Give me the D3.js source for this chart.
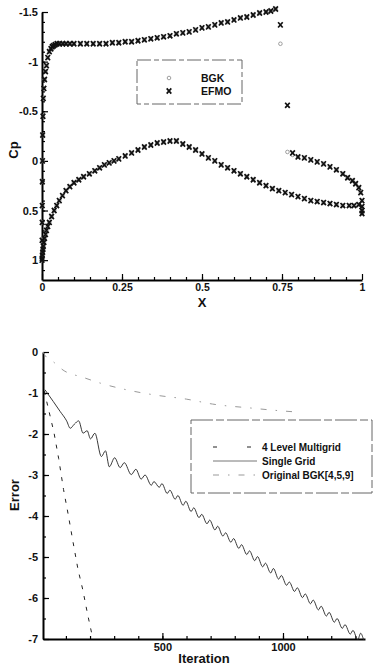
<!DOCTYPE html>
<html>
<head>
<meta charset="utf-8">
<script src="https://cdn.jsdelivr.net/npm/d3@7"></script>
<style>
  body { margin: 0; background: #fff; }
  svg { display: block; font-family: 'Liberation Sans', Arial, sans-serif; }
  .axis text { font-size: 11px; font-weight: bold; fill: #111; }
  .axis line { stroke: #000; stroke-width: 1.2; }
  .axis path { stroke: #000; stroke-width: 2; }
  .label { font-weight: bold; fill: #111; }
  .leg { font-size: 10px; font-weight: bold; fill: #111; }
</style>
</head>
<body>
<svg width="381" height="666"></svg>
<script>
// ---- top chart: pressure coefficient ----
let upperX = [0, 0.0003, 0.0005, 0.0008, 0.001, 0.0015, 0.002, 0.003, 0.004, 0.006, 0.008, 0.011, 0.014, 0.018,
  0.023, 0.028, 0.032, 0.036, 0.041, 0.047, 0.055, 0.065, 0.075, 0.087, 0.1, 0.12, 0.14, 0.16, 0.18, 0.2,
  0.22, 0.24, 0.26, 0.28, 0.3, 0.32, 0.34, 0.36, 0.38, 0.4, 0.42, 0.44, 0.46, 0.48, 0.5, 0.52, 0.54, 0.56,
  0.58, 0.6, 0.62, 0.64, 0.66, 0.68, 0.7, 0.715, 0.73, 0.745, 0.767, 0.783, 0.8, 0.82, 0.84, 0.86, 0.88,
  0.9, 0.92, 0.94, 0.955, 0.97, 0.98, 0.99, 0.996, 1.0, 1.0];
let efmoUpperCp = [1.0, 0.8, 0.62, 0.45, 0.21, 0.0, -0.26, -0.45, -0.63, -0.73, -0.82, -0.9, -0.96, -1.04,
  -1.1, -1.13, -1.15, -1.16, -1.17, -1.18, -1.18, -1.18, -1.18, -1.18, -1.18, -1.18, -1.18, -1.18, -1.18, -1.18,
  -1.19, -1.19, -1.2, -1.2, -1.21, -1.22, -1.23, -1.24, -1.25, -1.26, -1.28, -1.29, -1.3, -1.32, -1.34, -1.35, -1.37, -1.39,
  -1.4, -1.42, -1.44, -1.45, -1.47, -1.49, -1.5, -1.51, -1.53, -1.37, -0.56, -0.08, -0.04, -0.03, -0.01, 0.01, 0.03,
  0.06, 0.09, 0.13, 0.17, 0.2, 0.23, 0.27, 0.32, 0.4, 0.5];
let bgkUpperCp = [1.0, 0.8, 0.62, 0.45, 0.21, 0.0, -0.26, -0.45, -0.63, -0.73, -0.82, -0.9, -0.96, -1.04,
  -1.1, -1.13, -1.15, -1.16, -1.17, -1.18, -1.18, -1.18, -1.18, -1.18, -1.18, -1.18, -1.18, -1.18, -1.18, -1.18,
  -1.19, -1.19, -1.2, -1.2, -1.21, -1.22, -1.23, -1.24, -1.25, -1.26, -1.28, -1.29, -1.3, -1.32, -1.34, -1.35, -1.37, -1.39,
  -1.4, -1.42, -1.44, -1.45, -1.47, -1.49, -1.5, -1.51, -1.53, -1.18, -0.09, -0.06, -0.04, -0.03, -0.01, 0.01, 0.03,
  0.06, 0.09, 0.13, 0.17, 0.2, 0.23, 0.27, 0.32, 0.4, 0.5];

let lowerX = [0.0005, 0.001, 0.002, 0.003, 0.004, 0.006, 0.008, 0.011, 0.014, 0.018, 0.023, 0.03, 0.038, 0.046,
  0.054, 0.064, 0.075, 0.087, 0.1, 0.115, 0.13, 0.148, 0.165, 0.18, 0.195, 0.21, 0.225, 0.24, 0.26, 0.28,
  0.3, 0.32, 0.34, 0.36, 0.38, 0.4, 0.42, 0.44, 0.46, 0.48, 0.5, 0.52, 0.54, 0.56, 0.58, 0.6, 0.62, 0.64,
  0.66, 0.68, 0.7, 0.72, 0.74, 0.76, 0.78, 0.8, 0.82, 0.84, 0.86, 0.88, 0.9, 0.92, 0.94, 0.96, 0.975, 0.99, 1.0, 1.0];
let lowerCp = [0.98, 0.95, 0.92, 0.89, 0.86, 0.82, 0.78, 0.74, 0.7, 0.66, 0.62, 0.56, 0.5, 0.45,
  0.4, 0.35, 0.3, 0.26, 0.22, 0.19, 0.16, 0.13, 0.1, 0.07, 0.04, 0.02, 0.0, -0.02, -0.05, -0.08,
  -0.11, -0.14, -0.16, -0.18, -0.19, -0.2, -0.2, -0.17, -0.14, -0.11, -0.07, -0.03, 0.0, 0.04, 0.07, 0.1, 0.13, 0.16,
  0.19, 0.22, 0.25, 0.28, 0.3, 0.32, 0.34, 0.36, 0.38, 0.4, 0.41, 0.42, 0.43, 0.44, 0.45, 0.45, 0.45, 0.44, 0.46, 0.53];

let cpXTicks = [0, 0.25, 0.5, 0.75, 1];
let cpXTickLabels = ['0', '0.25', '0.5', '0.75', '1'];
let cpYTicks = [-1.5, -1, -0.5, 0, 0.5, 1];
let cpYTickLabels = ['-1.5', '-1', '-0.5', '0', '0.5', '1'];

// ---- bottom chart: convergence history ----
let multiIter = [10, 30, 50, 70, 90, 110, 130, 150, 170, 190, 212];
let multiErr = [-0.95, -1.45, -1.95, -2.6, -3.35, -3.98, -4.65, -5.3, -5.8, -6.4, -7.0];

let singleIter = [13, 48, 76, 103, 118, 135, 153, 171, 188, 202, 220, 247, 264, 280, 302, 325, 342, 371, 390,
  412, 428, 454, 465, 487, 498, 520, 531, 553, 564, 586, 597, 619, 630, 652, 663, 685, 696, 718, 729,
  751, 762, 784, 795, 817, 828, 850, 861, 883, 894, 916, 927, 949, 960, 982, 993, 1015, 1026, 1048, 1059,
  1081, 1092, 1114, 1125, 1147, 1158, 1180, 1191, 1213, 1224, 1246, 1257, 1279, 1290, 1310, 1322, 1334];
let singleErr = [-0.92, -1.21, -1.45, -1.68, -1.86, -1.76, -1.68, -1.98, -1.92, -2.12, -1.98, -2.55, -2.41, -2.8, -2.58,
  -2.82, -2.7, -2.99, -2.86, -3.1, -3.0, -3.25, -3.16, -3.3, -3.21, -3.45, -3.37, -3.59, -3.5, -3.74, -3.64,
  -3.89, -3.8, -4.04, -3.96, -4.19, -4.1, -4.34, -4.25, -4.49, -4.41, -4.64, -4.55, -4.79, -4.7, -4.94, -4.85,
  -5.09, -4.99, -5.24, -5.15, -5.39, -5.28, -5.54, -5.45, -5.69, -5.61, -5.84, -5.75, -5.99, -5.9, -6.14, -6.05,
  -6.29, -6.2, -6.44, -6.35, -6.59, -6.5, -6.74, -6.65, -6.88, -6.79, -7.02, -6.86, -7.02];

let bgkIter = [5, 13, 48, 88, 172, 243, 350, 470, 600, 708, 873, 942, 1072];
let bgkErr = [0.0, -0.08, -0.24, -0.44, -0.62, -0.76, -0.92, -1.05, -1.15, -1.27, -1.37, -1.41, -1.47];

let errYTicks = [0, -1, -2, -3, -4, -5, -6, -7];
let iterTicks = [500, 1000];

let seriesNames = ['4 Level Multigrid', 'Single Grid', 'Original BGK[4,5,9]'];

let svg = d3.select('svg');

// ================= top chart =================
let xScale = d3.scaleLinear().domain([0, 1]).range([42, 362]);
let yScale = d3.scaleLinear().domain([-1.5, 1.2]).range([12, 280]);

// minor ticks
svg.append('g').attr('class', 'axis minor')
  .attr('transform', 'translate(0,280)')
  .call(d3.axisBottom(xScale).tickValues(d3.range(0.05, 1, 0.05)).tickSize(-3).tickFormat(''))
  .call(g => g.select('.domain').remove());
svg.append('g').attr('class', 'axis minor')
  .attr('transform', 'translate(42,0)')
  .call(d3.axisLeft(yScale).tickValues(d3.range(-1.4, 1.15, 0.1)).tickSize(-3).tickFormat(''))
  .call(g => g.select('.domain').remove());

svg.append('g').attr('class', 'axis')
  .attr('transform', 'translate(0,280)')
  .call(d3.axisBottom(xScale).tickValues(cpXTicks).tickSize(-6).tickSizeOuter(0).tickPadding(4)
    .tickFormat((d, i) => cpXTickLabels[i]))
  .call(g => g.selectAll('text').style('font-size', '10.5px'));
svg.append('g').attr('class', 'axis')
  .attr('transform', 'translate(42,0)')
  .call(d3.axisLeft(yScale).tickValues(cpYTicks).tickSize(-6).tickSizeOuter(0).tickPadding(4)
    .tickFormat((d, i) => cpYTickLabels[i]));

svg.append('text').attr('class', 'label')
  .attr('x', 202).attr('y', 307).attr('text-anchor', 'middle')
  .style('font-size', '13px').text('X');
svg.append('text').attr('class', 'label')
  .attr('transform', 'translate(18,150) rotate(-90)').attr('text-anchor', 'middle')
  .style('font-size', '13px').text('Cp');

let bgkPts = upperX.map((x, i) => [x, bgkUpperCp[i]]).concat(lowerX.map((x, i) => [x, lowerCp[i]]));
let efmoPts = upperX.map((x, i) => [x, efmoUpperCp[i]]).concat(lowerX.map((x, i) => [x, lowerCp[i]]));

svg.append('g').selectAll('circle')
  .data(bgkPts)
  .enter()
  .append('circle')
  .attr('cx', d => xScale(d[0]))
  .attr('cy', d => yScale(d[1]))
  .attr('r', 1.8)
  .attr('fill', 'none')
  .attr('stroke', '#888')
  .attr('stroke-width', 0.8);

let xMark = 'M-2.3,-2.6L2.3,2.6M2.3,-2.6L-2.3,2.6';
svg.append('g').selectAll('path')
  .data(efmoPts)
  .enter()
  .append('path')
  .attr('d', xMark)
  .attr('transform', d => `translate(${xScale(d[0])},${yScale(d[1])})`)
  .attr('stroke', '#111')
  .attr('stroke-width', 1.7)
  .attr('fill', 'none');

// legend
let leg1 = svg.append('g');
leg1.append('rect').attr('x', 137).attr('y', 60).attr('width', 105).attr('height', 44)
  .attr('fill', '#fff').attr('stroke', '#666').attr('stroke-dasharray', '14,3,5,3');
leg1.append('circle').attr('cx', 169).attr('cy', 78).attr('r', 1.8)
  .attr('fill', 'none').attr('stroke', '#888').attr('stroke-width', 0.8);
leg1.append('path').attr('d', xMark).attr('transform', 'translate(169,91)')
  .attr('stroke', '#111').attr('stroke-width', 1.7);
leg1.append('text').attr('class', 'leg').attr('x', 201).attr('y', 82).style('font-size', '10.5px').text('BGK');
leg1.append('text').attr('class', 'leg').attr('x', 201).attr('y', 95).style('font-size', '10.5px').text('EFMO');

// ================= bottom chart =================
let iterScale = d3.scaleLinear().domain([5, 1340]).range([43, 365]);
let errScale = d3.scaleLinear().domain([-7, 0]).range([639, 352]);

svg.append('g').attr('class', 'axis minor')
  .attr('transform', 'translate(0,639)')
  .call(d3.axisBottom(iterScale).tickValues(d3.range(100, 1340, 100)).tickSize(-3).tickFormat(''))
  .call(g => g.select('.domain').remove());
svg.append('g').attr('class', 'axis minor')
  .attr('transform', 'translate(43,0)')
  .call(d3.axisLeft(errScale).tickValues(d3.range(-6.5, 0, 0.5)).tickSize(-3).tickFormat(''))
  .call(g => g.select('.domain').remove());

svg.append('g').attr('class', 'axis')
  .attr('transform', 'translate(0,639)')
  .call(d3.axisBottom(iterScale).tickValues(iterTicks).tickSize(-6).tickSizeOuter(0).tickPadding(4)
    .tickFormat(d => String(d)));
svg.append('g').attr('class', 'axis')
  .attr('transform', 'translate(43,0)')
  .call(d3.axisLeft(errScale).tickValues(errYTicks).tickSize(-6).tickSizeOuter(0).tickPadding(5)
    .tickFormat(d => String(d)));

svg.append('text').attr('class', 'label')
  .attr('x', 204).attr('y', 663).attr('text-anchor', 'middle')
  .style('font-size', '13px').text('Iteration');
svg.append('text').attr('class', 'label')
  .attr('transform', 'translate(19,495) rotate(-90)').attr('text-anchor', 'middle')
  .style('font-size', '13px').text('Error');

svg.append('clipPath').attr('id', 'clip')
  .append('rect').attr('x', 43).attr('y', 345).attr('width', 330).attr('height', 295);

let line = d3.line()
  .x(d => iterScale(d[0]))
  .y(d => errScale(d[1]));

let plot = svg.append('g').attr('clip-path', 'url(#clip)');

plot.append('path')
  .datum(bgkIter.map((d, i) => [d, bgkErr[i]]))
  .attr('d', line.curve(d3.curveMonotoneX))
  .attr('fill', 'none').attr('stroke', '#999').attr('stroke-width', 1)
  .attr('stroke-dasharray', '6,9,1.5,9');

plot.append('path')
  .datum(multiIter.map((d, i) => [d, multiErr[i]]))
  .attr('d', line.curve(d3.curveLinear))
  .attr('fill', 'none').attr('stroke', '#222').attr('stroke-width', 1)
  .attr('stroke-dasharray', '4,7');

plot.append('path')
  .datum(singleIter.map((d, i) => [d, singleErr[i]]))
  .attr('d', line.curve(d3.curveMonotoneX))
  .attr('fill', 'none').attr('stroke', '#222').attr('stroke-width', 0.9);

// legend
let leg2 = svg.append('g');
leg2.append('rect').attr('x', 191).attr('y', 420).attr('width', 181).attr('height', 73)
  .attr('fill', '#fff').attr('stroke', '#666').attr('stroke-dasharray', '22,3,8,3');
let legStyles = [
  { stroke: '#222', dash: '4,30', width: 1 },
  { stroke: '#777', dash: null, width: 1 },
  { stroke: '#999', dash: '6,9,1.5,9', width: 1 },
];
let legY = [447, 461, 475];
seriesNames.forEach((name, i) => {
  leg2.append('line')
    .attr('x1', 213).attr('x2', 257).attr('y1', legY[i]).attr('y2', legY[i])
    .attr('stroke', legStyles[i].stroke).attr('stroke-width', legStyles[i].width)
    .attr('stroke-dasharray', legStyles[i].dash);
  leg2.append('text').attr('class', 'leg')
    .attr('x', 262).attr('y', legY[i] + 3.5).text(name);
});
</script>
</body>
</html>
